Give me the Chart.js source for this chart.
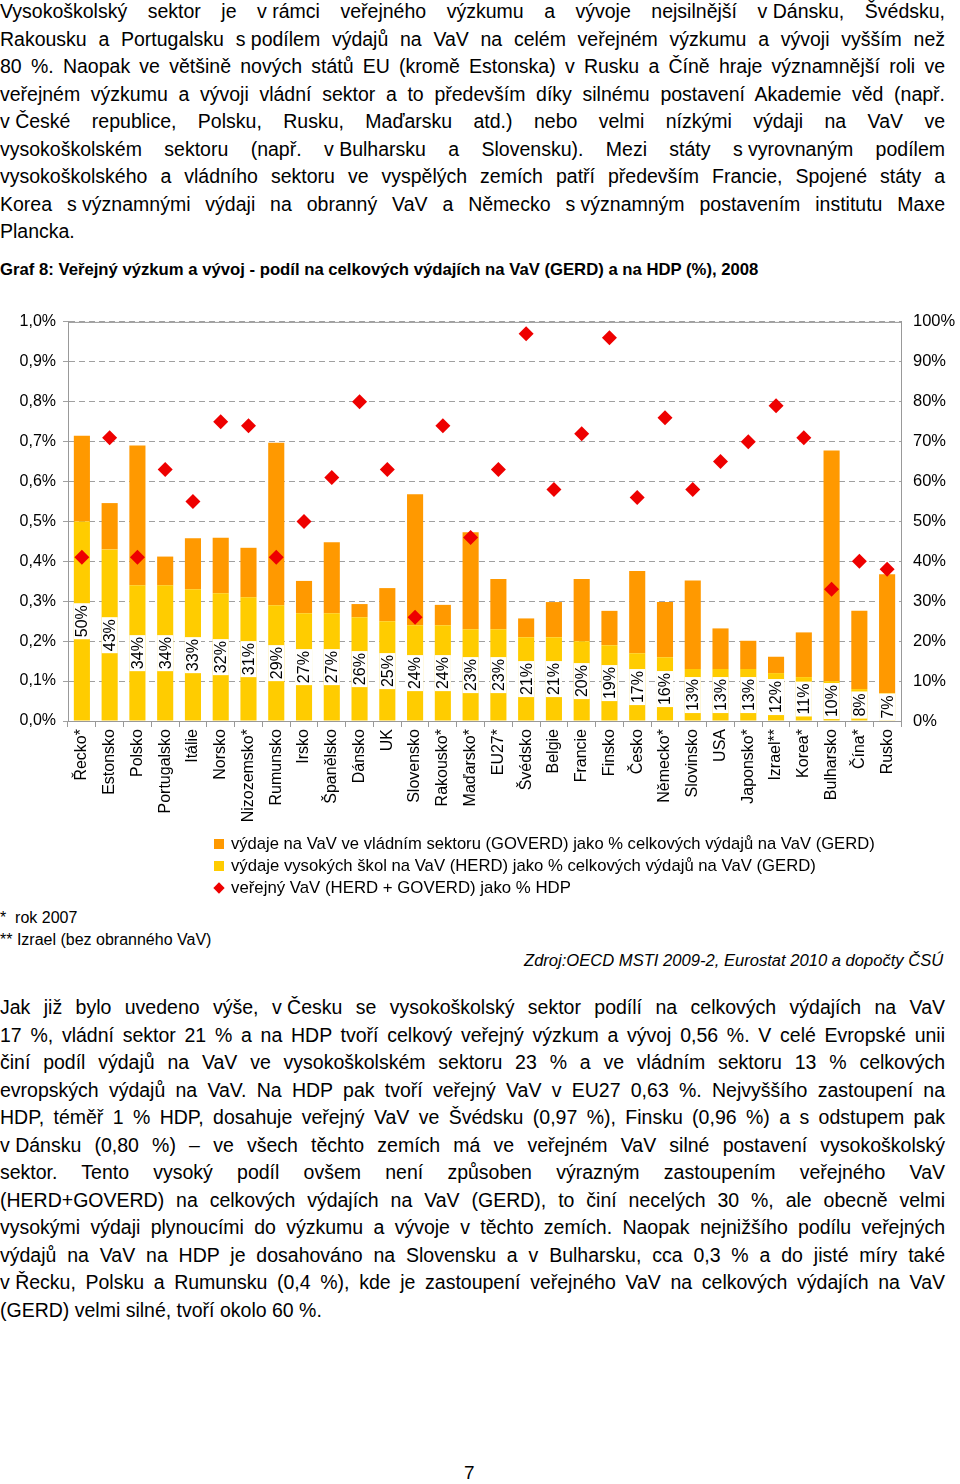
<!DOCTYPE html>
<html lang="cs">
<head>
<meta charset="utf-8">
<script src="https://cdn.jsdelivr.net/npm/chart.js@4.4.1/dist/chart.umd.min.js"></script>
<style>
  body { margin: 0; width: 960px; height: 1484px; position: relative; background: #fff; overflow: hidden;
         font-family: "Liberation Sans", Arial, sans-serif; color: #000; }
  .para { position: absolute; left: 0; width: 945px; font-size: 19.5px; line-height: 27.5px; }
  .para div { text-align: justify; text-align-last: justify; white-space: nowrap; }
  .para div.last { text-align-last: left; }
  .nb { display: inline-block; }
  .title { position: absolute; left: 0; top: 260px; font-size: 16.7px; font-weight: bold; line-height: 20px; white-space: nowrap; }
  #chartBox { position: absolute; left: 0; top: 300px; width: 960px; height: 540px; }
  .legend { position: absolute; left: 212px; top: 833px; font-size: 17px; line-height: 22px; }
  .legend div { position: relative; padding-left: 19px; white-space: nowrap; }
  .fit { display: inline-block; transform-origin: left center; }
  .mk { position: absolute; left: 2px; top: 6px; width: 10px; height: 10px; }
  .dia { position: absolute; left: 3px; top: 7px; width: 8px; height: 8px; background: #e00; transform: rotate(45deg); }
  .notes { position: absolute; left: 0; top: 907px; font-size: 16px; line-height: 22px; }
  .src { position: absolute; left: 524px; top: 950px; font-size: 16px; line-height: 22px; font-style: italic; white-space: nowrap; }
  .page { position: absolute; left: 464px; top: 1462px; font-size: 19px; }
</style>
</head>
<body>

<div class="para" style="top:-2px">
  <div>Vysokoškolský sektor je <span class="nb">v rámci</span> veřejného výzkumu a vývoje nejsilnější <span class="nb">v Dánsku,</span> Švédsku,</div>
  <div>Rakousku a Portugalsku <span class="nb">s podílem</span> výdajů na VaV na celém veřejném výzkumu a vývoji vyšším než</div>
  <div>80 %. Naopak ve většině nových států EU (kromě Estonska) v Rusku a Číně hraje významnější roli ve</div>
  <div>veřejném výzkumu a vývoji vládní sektor a to především díky silnému postavení Akademie věd (např.</div>
  <div><span class="nb">v České</span> republice, Polsku, Rusku, Maďarsku atd.) nebo velmi nízkými výdaji na VaV ve</div>
  <div>vysokoškolském sektoru (např. <span class="nb">v Bulharsku</span> a Slovensku). Mezi státy <span class="nb">s vyrovnaným</span> podílem</div>
  <div>vysokoškolského a vládního sektoru ve vyspělých zemích patří především Francie, Spojené státy a</div>
  <div>Korea <span class="nb">s významnými</span> výdaji na obranný VaV a Německo <span class="nb">s významným</span> postavením institutu Maxe</div>
  <div class="last">Plancka.</div>
</div>

<div class="title">Graf 8: Veřejný výzkum a vývoj - podíl na celkových výdajích na VaV (GERD) a na HDP (%), 2008</div>

<div id="chartBox"><canvas id="gerdChart"></canvas></div>

<div class="legend">
  <div><span class="mk" style="background:#ff9900"></span><span class="fit" data-w="644">výdaje na VaV ve vládním sektoru (GOVERD) jako % celkových výdajů na VaV (GERD)</span></div>
  <div><span class="mk" style="background:#ffcc00"></span><span class="fit" data-w="585">výdaje vysokých škol na VaV (HERD) jako % celkových výdajů na VaV (GERD)</span></div>
  <div><span class="dia"></span><span class="fit" data-w="340">veřejný VaV (HERD + GOVERD) jako % HDP</span></div>
</div>

<div class="notes">
  <div>*&nbsp; rok 2007</div>
  <div>** Izrael (bez obranného VaV)</div>
</div>
<div class="src"><span class="fit" data-w="419">Zdroj:OECD MSTI 2009-2, Eurostat 2010 a dopočty ČSÚ</span></div>

<div class="para" style="top:994px">
  <div>Jak již bylo uvedeno výše, <span class="nb">v Česku</span> se vysokoškolský sektor podílí na celkových výdajích na VaV</div>
  <div>17 %, vládní sektor 21 % a na HDP tvoří celkový veřejný výzkum a vývoj 0,56 %. V celé Evropské unii</div>
  <div>činí podíl výdajů na VaV ve vysokoškolském sektoru 23 % a ve vládním sektoru 13 % celkových</div>
  <div>evropských výdajů na VaV. Na HDP pak tvoří veřejný VaV v EU27 0,63 %. Nejvyššího zastoupení na</div>
  <div>HDP, téměř 1 % HDP, dosahuje veřejný VaV ve Švédsku (0,97 %), Finsku (0,96 %) a s odstupem pak</div>
  <div><span class="nb">v Dánsku</span> (0,80 %) – ve všech těchto zemích má ve veřejném VaV silné postavení vysokoškolský</div>
  <div>sektor. Tento vysoký podíl ovšem není způsoben výrazným zastoupením veřejného VaV</div>
  <div>(HERD+GOVERD) na celkových výdajích na VaV (GERD), to činí necelých 30 %, ale obecně velmi</div>
  <div>vysokými výdaji plynoucími do výzkumu a vývoje v těchto zemích. Naopak nejnižšího podílu veřejných</div>
  <div>výdajů na VaV na HDP je dosahováno na Slovensku a v Bulharsku, cca 0,3 % a do jisté míry také</div>
  <div><span class="nb">v Řecku,</span> Polsku a Rumunsku (0,4 %), kde je zastoupení veřejného VaV na celkových výdajích na VaV</div>
  <div class="last">(GERD) velmi silné, tvoří okolo 60 %.</div>
</div>

<div class="page">7</div>

<script>
// Countries (* rok 2007, ** bez obranného VaV)
const countries = ['Řecko*', 'Estonsko', 'Polsko', 'Portugalsko', 'Itálie', 'Norsko', 'Nizozemsko*', 'Rumunsko',
  'Irsko', 'Španělsko', 'Dánsko', 'UK', 'Slovensko', 'Rakousko*', 'Maďarsko*', 'EU27*', 'Švédsko', 'Belgie',
  'Francie', 'Finsko', 'Česko', 'Německo*', 'Slovinsko', 'USA', 'Japonsko*', 'Izrael**', 'Korea*', 'Bulharsko',
  'Čína*', 'Rusko'];

// HERD as % of GERD (right axis)
const herd = [50, 43, 34, 34, 33, 32, 31, 29, 27, 27, 26, 25, 24, 24, 23, 23, 21, 21, 20, 19, 17, 16, 13, 13, 13, 12, 11, 10, 8, 7];

// GOVERD as % of GERD (right axis, stacked on HERD)
const goverd = [21.5, 11.6, 35, 7.2, 12.8, 13.9, 12.4, 40.7, 8.1, 17.8, 3.3, 8.3, 32.8, 5.1, 24.3, 12.6, 4.7, 8.8,
  15.6, 8.6, 20.6, 13.8, 22.2, 10.2, 7.1, 4.1, 11.2, 57.8, 19.6, 29.8];

// public R&D (HERD + GOVERD) as % of GDP (left axis)
const publicGdp = [0.41, 0.71, 0.41, 0.63, 0.55, 0.75, 0.74, 0.41, 0.50, 0.61, 0.80, 0.63, 0.26, 0.74, 0.46, 0.63,
  0.97, 0.58, 0.72, 0.96, 0.56, 0.76, 0.58, 0.65, 0.70, 0.79, 0.71, 0.33, 0.40, 0.38];

const FONT = '"Liberation Sans", Arial, sans-serif';

// white boxes with the HERD share written across the yellow bar
// (datasets are drawn in reverse order, so HERD - index 0 - comes after GOVERD)
const herdLabels = {
  id: 'herdLabels',
  afterDatasetDraw(chart, args) {
    if (args.index !== 0) return;
    const meta = chart.getDatasetMeta(0);
    const y2 = chart.scales.y2;
    const ctx = chart.ctx;
    ctx.save();
    ctx.font = '16px ' + FONT;
    meta.data.forEach((bar, i) => {
      const text = herd[i] + '%';
      const w = ctx.measureText(text).width;
      const cy = y2.getPixelForValue(herd[i] / 2);
      ctx.fillStyle = '#fff';
      ctx.fillRect(bar.x - bar.width / 2, cy - w / 2 - 2, bar.width, w + 4);
      ctx.save();
      ctx.translate(bar.x + 1, cy);
      ctx.rotate(-Math.PI / 2);
      ctx.fillStyle = '#000';
      ctx.textAlign = 'center';
      ctx.textBaseline = 'middle';
      ctx.fillText(text, 0, 0);
      ctx.restore();
    });
    ctx.restore();
  }
};

// solid frame line at the top of the plot
const topLine = {
  id: 'topLine',
  beforeDatasetsDraw(chart) {
    const { ctx, chartArea } = chart;
    ctx.save();
    ctx.strokeStyle = '#999';
    ctx.lineWidth = 1;
    ctx.beginPath();
    ctx.moveTo(chartArea.left, chartArea.top + 0.5);
    ctx.lineTo(chartArea.right, chartArea.top + 0.5);
    ctx.stroke();
    ctx.restore();
  }
};

new Chart(document.getElementById('gerdChart'), {
  type: 'bar',
  data: {
    labels: countries,
    datasets: [
      {
        label: 'výdaje vysokých škol na VaV (HERD) jako % celkových výdajů na VaV (GERD)',
        data: herd,
        backgroundColor: '#ffcc00',
        yAxisID: 'y2',
        stack: 's',
        order: 1
      },
      {
        label: 'výdaje na VaV ve vládním sektoru (GOVERD) jako % celkových výdajů na VaV (GERD)',
        data: goverd,
        backgroundColor: '#ff9900',
        yAxisID: 'y2',
        stack: 's',
        order: 1
      },
      {
        type: 'line',
        label: 'veřejný VaV (HERD + GOVERD) jako % HDP',
        data: publicGdp,
        yAxisID: 'y',
        showLine: false,
        pointStyle: 'rectRot',
        pointRadius: 7.5,
        backgroundColor: '#ee0000',
        borderColor: '#ee0000',
        borderWidth: 0,
        order: 0
      }
    ]
  },
  options: {
    responsive: true,
    maintainAspectRatio: false,
    animation: false,
    layout: { padding: { top: 21, left: 0, right: 0, bottom: 0 } },
    datasets: { bar: { barPercentage: 0.58, categoryPercentage: 1 } },
    plugins: {
      legend: { display: false },
      tooltip: { enabled: false }
    },
    scales: {
      x: {
        stacked: true,
        afterFit: s => { s.height = 119; },
        grid: { drawOnChartArea: false, offset: true, color: '#999', tickLength: 6 },
        border: { color: '#999' },
        ticks: {
          autoSkip: false,
          minRotation: 90,
          maxRotation: 90,
          padding: 2,
          color: '#000',
          font: { family: FONT, size: 16 }
        }
      },
      y: {
        position: 'left',
        min: 0,
        max: 1.0,
        afterFit: s => { s.width = 68; },
        grid: { color: '#a0a0a0', tickLength: 5 },
        border: { color: '#999', dash: [6, 4] },
        ticks: {
          stepSize: 0.1,
          padding: 7,
          color: '#000',
          font: { family: FONT, size: 16 },
          callback: v => v.toFixed(1).replace('.', ',') + '%'
        }
      },
      y2: {
        position: 'right',
        stacked: true,
        min: 0,
        max: 100,
        afterFit: s => { s.width = 59; },
        grid: { drawOnChartArea: false, drawTicks: false },
        border: { color: '#999' },
        ticks: {
          stepSize: 10,
          padding: 12,
          color: '#000',
          font: { family: FONT, size: 16.5 },
          callback: v => v + '%'
        }
      }
    }
  },
  plugins: [herdLabels, topLine]
});

// squeeze legend and source lines to the width they have in the printed chart
document.querySelectorAll('.fit').forEach(el => {
  const target = +el.dataset.w;
  const w = el.getBoundingClientRect().width;
  if (w > 0) el.style.transform = 'scaleX(' + (target / w).toFixed(3) + ')';
});
</script>
</body>
</html>
